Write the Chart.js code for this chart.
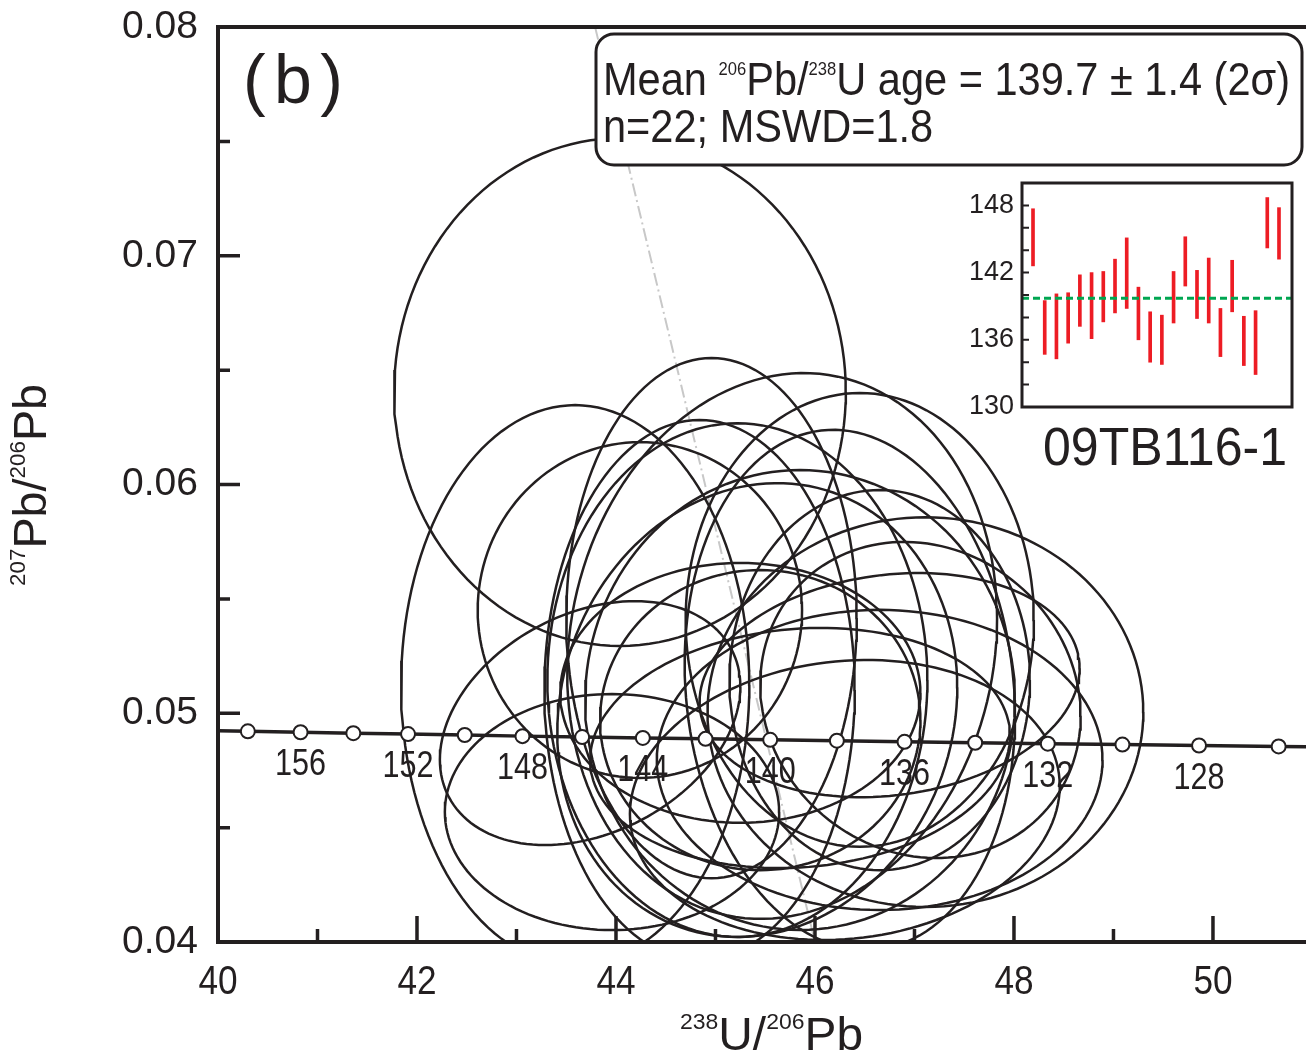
<!DOCTYPE html>
<html>
<head>
<meta charset="utf-8">
<script src="https://cdn.jsdelivr.net/npm/chart.js@4.4.0/dist/chart.umd.min.js"></script>
<style>
  html, body { margin: 0; padding: 0; background: #fff; }
  #wrap { position: relative; width: 1306px; height: 1056px; }
  #main { position: absolute; left: 0; top: 0; }
  #inset { position: absolute; left: 960px; top: 170px; }
</style>
</head>
<body>
<div id="wrap">
  <canvas id="main" width="1306" height="1056"></canvas>
  <canvas id="inset" width="346" height="250"></canvas>
</div>
<script>
// error ellipses: centre, half widths (x, y) and error correlation
const ellX   = [44.04, 43.59, 43.96, 43.74, 47.11, 44.96, 45.67, 46.45, 46.35, 44.24, 45.22,
                45.42, 45.85, 46.65, 47.06, 46.75, 45.25, 45.85, 46.65, 45.45, 44.84, 46.30];
const ellY   = [0.06404, 0.05123, 0.04568, 0.04957, 0.05005, 0.05416, 0.05294, 0.05408, 0.05102, 0.05451, 0.05145,
                0.05014, 0.05058, 0.05145, 0.05058, 0.05123, 0.05089, 0.04848, 0.04796, 0.04970, 0.05102, 0.04621];
const ellSX  = [2.27, 1.75, 1.68, 1.51, 2.19, 1.46, 2.16, 1.75, 1.66, 1.63, 1.91,
                2.01, 2.16, 1.51, 1.61, 1.91, 1.81, 2.11, 2.24, 1.61, 1.56, 2.16];
const ellSY  = [0.01110, 0.01224, 0.00516, 0.00533, 0.00852, 0.01137, 0.01193, 0.00992, 0.01137, 0.00734, 0.01123,
                0.00992, 0.01005, 0.00831, 0.00691, 0.00490, 0.00568, 0.00525, 0.00656, 0.00656, 0.01180, 0.00612];
const ellRho = [0, 0, 0, 0.3, 0, 0, 0.1, 0, -0.1, 0, 0,
                0.1, 0, 0, -0.1, 0.15, 0, 0.1, 0, 0, 0, 0.1];

// concordia ticks (Ma) and their positions
const concAges = [158, 156, 154, 152, 150, 148, 146, 144, 142, 140, 138, 136, 134, 132, 130, 128, 126];
const concX = [40.30, 40.83, 41.36, 41.91, 42.48, 43.06, 43.66, 44.27, 44.90, 45.55, 46.22, 46.90, 47.61, 48.34, 49.09, 49.86, 50.66];
const concY = [0.04921, 0.04917, 0.04913, 0.04909, 0.04905, 0.04900, 0.04896, 0.04892, 0.04888,
               0.04884, 0.04880, 0.04875, 0.04871, 0.04867, 0.04863, 0.04859, 0.04855];
const concEndX = [40.0, 50.94];
const concEndY = [0.04923, 0.04853];
const ageLabels = [156, 152, 148, 144, 140, 136, 132, 128];

// axis tick labels
const xTickLabels = [40, 42, 44, 46, 48, 50];

// grey dash-dot reference line
const refX = [43.79, 46.0];
const refY = [0.08, 0.04];

// inset: 206Pb/238U ages with 2 sigma errors
const insetHigh = [147.7, 139.5, 140.1, 140.2, 141.8, 142.0, 142.1, 143.2, 145.1, 140.7, 138.5,
                   138.2, 142.1, 145.2, 142.2, 143.3, 138.8, 143.1, 138.1, 138.6, 148.7, 147.8];
const insetLow  = [142.6, 134.7, 134.3, 135.7, 137.2, 136.1, 137.6, 138.4, 138.8, 136.0, 134.0,
                   133.8, 137.5, 140.8, 137.9, 137.5, 134.5, 138.5, 133.7, 132.9, 144.2, 143.2];
const meanAge = 139.7;

const INK = '#231f20';
const SANS = '"Liberation Sans", Arial, sans-serif';

function ellipsePoints(cx, cy, sx, sy, rho) {
  const pts = [];
  const k = Math.sqrt(1 - rho * rho);
  for (let i = 0; i <= 144; i++) {
    const t = i / 144 * 2 * Math.PI;
    pts.push({x: cx + sx * Math.cos(t), y: cy + sy * (rho * Math.cos(t) + k * Math.sin(t))});
  }
  return pts;
}

// text with superscripts, squeezed horizontally by k
function richWidth(ctx, segs, size, supScale) {
  let w = 0;
  segs.forEach(([t, sup]) => {
    ctx.font = (sup ? size * supScale : size) + 'px ' + SANS;
    w += ctx.measureText(t).width;
  });
  return w;
}
function drawRich(ctx, segs, x, y, size, k, supScale, supRaise) {
  ctx.save();
  ctx.translate(x, y);
  ctx.scale(k, 1);
  ctx.textAlign = 'left';
  ctx.textBaseline = 'alphabetic';
  ctx.fillStyle = INK;
  let cx = 0;
  segs.forEach(([t, sup]) => {
    ctx.font = (sup ? size * supScale : size) + 'px ' + SANS;
    ctx.fillText(t, cx, sup ? -size * supRaise : 0);
    cx += ctx.measureText(t).width;
  });
  ctx.restore();
}
function drawNarrow(ctx, text, x, y, size, k) {
  ctx.save();
  ctx.translate(x, y);
  ctx.scale(k, 1);
  ctx.font = size + 'px ' + SANS;
  ctx.fillStyle = INK;
  ctx.textAlign = 'center';
  ctx.textBaseline = 'alphabetic';
  ctx.fillText(text, 0, 0);
  ctx.restore();
}

const ellipseSets = ellX.map((cx, i) => ({
  data: ellipsePoints(cx, ellY[i], ellSX[i], ellSY[i], ellRho[i]),
  showLine: true, pointRadius: 0, borderColor: INK, borderWidth: 2.5, order: 2
}));

const lineX = [concEndX[0], ...concX, concEndX[1]];
const lineY = [concEndY[0], ...concY, concEndY[1]];

const mainDecor = {
  id: 'mainDecor',
  afterDatasetsDraw(chart) {
    const {ctx, chartArea: a, scales: {x, y}} = chart;
    ctx.save();
    ctx.strokeStyle = INK;
    ctx.lineCap = 'butt';
    // inward ticks
    ctx.lineWidth = 3.5;
    ctx.beginPath();
    for (let v = 40; v <= 50; v++) {
      const px = x.getPixelForValue(v);
      ctx.moveTo(px, a.bottom);
      ctx.lineTo(px, a.bottom - (v % 2 === 0 ? 26 : 13));
    }
    for (let k = 1; k < 8; k++) {
      const py = y.getPixelForValue(0.04 + k * 0.005);
      ctx.moveTo(a.left, py);
      ctx.lineTo(a.left + (k % 2 === 0 ? 22 : 12), py);
    }
    ctx.stroke();
    // top frame
    ctx.lineWidth = 4;
    ctx.beginPath();
    ctx.moveTo(a.left - 2, a.top);
    ctx.lineTo(a.right, a.top);
    ctx.stroke();

    // x tick labels
    xTickLabels.forEach(v => drawNarrow(ctx, String(v), x.getPixelForValue(v), a.bottom + 52, 40, 0.88));

    // concordia age labels
    ageLabels.forEach(age => {
      const i = concAges.indexOf(age);
      drawNarrow(ctx, String(age), x.getPixelForValue(concX[i]), y.getPixelForValue(concY[i]) + 43, 36, 0.85);
    });

    // result box
    ctx.beginPath();
    ctx.roundRect(596, 34, 706, 131, 18);
    ctx.fillStyle = '#fff';
    ctx.fill();
    ctx.lineWidth = 3;
    ctx.stroke();
    const line1 = [['Mean ', 0], ['206', 1], ['Pb/', 0], ['238', 1], ['U age = 139.7 \u00b1 1.4 (2\u03c3)', 0]];
    const line2 = [['n=22; MSWD=1.8', 0]];
    const k1 = 687 / richWidth(ctx, line1, 46, 0.4);
    drawRich(ctx, line1, 603, 95, 46, k1, 0.4, 0.44);
    drawRich(ctx, line2, 603, 142, 46, k1, 0.4, 0.44);

    // panel letter
    ctx.fillStyle = INK;
    ctx.font = '68px ' + SANS;
    ctx.textBaseline = 'alphabetic';
    ctx.textAlign = 'left';
    ctx.fillText('(', 243, 103);
    ctx.textAlign = 'center';
    ctx.fillText('b', 293, 103);
    ctx.textAlign = 'right';
    ctx.fillText(')', 343, 103);

    // sample name
    const name = [['09TB116-1', 0]];
    drawRich(ctx, name, 1043, 465, 53, 244 / richWidth(ctx, name, 53, 0.4), 0.4, 0.4);

    // axis titles
    const xt = [['238', 1], ['U/', 0], ['206', 1], ['Pb', 0]];
    drawRich(ctx, xt, 680, 1050, 46, 183 / richWidth(ctx, xt, 46, 0.48), 0.48, 0.45);
    const yt = [['207', 1], ['Pb/', 0], ['206', 1], ['Pb', 0]];
    ctx.save();
    ctx.translate(46, 586);
    ctx.rotate(-Math.PI / 2);
    drawRich(ctx, yt, 0, 0, 46, 202 / richWidth(ctx, yt, 46, 0.48), 0.48, 0.45);
    ctx.restore();
    ctx.restore();
  }
};

new Chart(document.getElementById('main'), {
  type: 'scatter',
  data: {
    datasets: [
      {
        data: concX.map((v, i) => ({x: v, y: concY[i]})),
        pointRadius: 7, pointBackgroundColor: '#fff', pointBorderColor: INK, pointBorderWidth: 2,
        showLine: false, order: 0
      },
      {
        data: lineX.map((v, i) => ({x: v, y: lineY[i]})),
        showLine: true, pointRadius: 0, borderColor: INK, borderWidth: 3.5, order: 1
      },
      ...ellipseSets,
      {
        data: refX.map((v, i) => ({x: v, y: refY[i]})),
        showLine: true, pointRadius: 0, borderColor: '#c8c8c8', borderWidth: 2,
        borderDash: [13, 4, 2, 4], order: 3
      }
    ]
  },
  options: {
    responsive: false,
    animation: false,
    layout: {autoPadding: false, padding: {top: 27, right: 0, bottom: 0, left: 0}},
    plugins: {legend: {display: false}, tooltip: {enabled: false}},
    scales: {
      x: {
        type: 'linear', min: 40, max: 50.935,
        afterFit: s => { s.height = 114; s.paddingLeft = 0; s.paddingRight = 0; },
        grid: {display: false, drawTicks: false},
        border: {display: true, width: 4, color: INK},
        ticks: {display: false, stepSize: 1, includeBounds: false}
      },
      y: {
        type: 'linear', min: 0.04, max: 0.08,
        afterFit: s => { s.width = 218; s.paddingTop = 0; s.paddingBottom = 0; },
        grid: {display: false, drawTicks: false},
        border: {display: true, width: 4, color: INK},
        ticks: {
          stepSize: 0.01, autoSkip: false, padding: 20,
          color: INK, font: {family: SANS, size: 39},
          callback: v => v.toFixed(2)
        }
      }
    }
  },
  plugins: [mainDecor]
});

const insetFrame = {
  id: 'insetFrame',
  afterDatasetsDraw(chart) {
    const {ctx, chartArea: a, scales: {y}} = chart;
    ctx.save();
    ctx.strokeStyle = INK;
    ctx.lineWidth = 2;
    ctx.beginPath();
    for (let v = 132; v < 150; v += 2) {
      const py = y.getPixelForValue(v);
      ctx.moveTo(a.left, py);
      ctx.lineTo(a.left + 7, py);
    }
    ctx.stroke();
    ctx.lineWidth = 3;
    ctx.strokeRect(a.left, a.top, a.right - a.left, a.bottom - a.top);
    ctx.restore();
  }
};

new Chart(document.getElementById('inset'), {
  type: 'bar',
  data: {
    datasets: [
      {
        type: 'line',
        data: [{x: 0.06, y: meanAge}, {x: 23.11, y: meanAge}],
        borderColor: '#00a651', borderWidth: 3, borderDash: [7, 4], pointRadius: 0, order: 0
      },
      {
        type: 'bar',
        data: insetLow.map((lo, i) => ({x: i + 1, y: [lo, insetHigh[i]]})),
        backgroundColor: '#ed1c24', barThickness: 3, order: 1
      }
    ]
  },
  options: {
    responsive: false,
    animation: false,
    layout: {autoPadding: false, padding: {top: 13, right: 14, bottom: 13, left: 0}},
    plugins: {legend: {display: false}, tooltip: {enabled: false}},
    scales: {
      x: {type: 'linear', display: false, min: 0.06, max: 23.11, offset: false},
      y: {
        min: 130, max: 150,
        afterFit: s => { s.width = 62; s.paddingTop = 0; s.paddingBottom = 0; },
        grid: {display: false, drawTicks: false},
        border: {display: false},
        ticks: {
          stepSize: 2, autoSkip: false, padding: 8,
          color: INK, font: {family: SANS, size: 27},
          callback: v => ((v - 130) % 6 === 0 ? String(v) : '')
        }
      }
    }
  },
  plugins: [insetFrame]
});
</script>
</body>
</html>
